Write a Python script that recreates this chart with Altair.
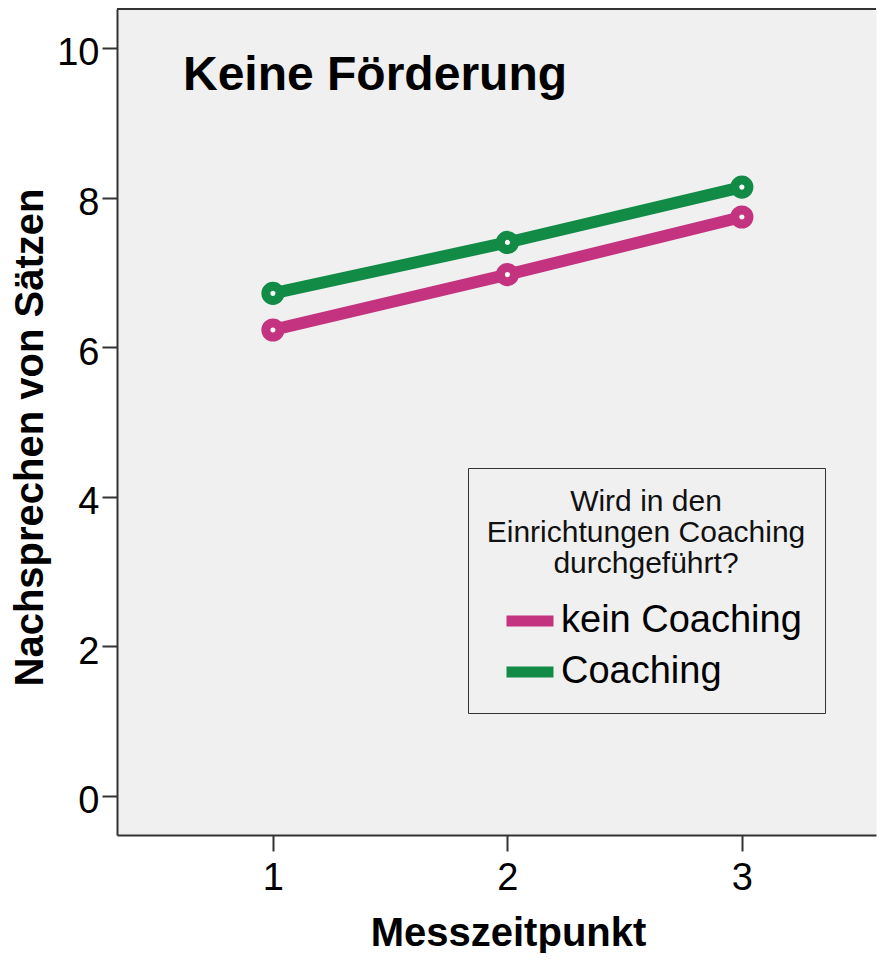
import altair as alt
import pandas as pd

# ---- data ----
zeitpunkte = [1, 2, 3]
kein_coaching = [6.23, 6.97, 7.74]
coaching = [6.72, 7.40, 8.14]
gruppen = ["kein Coaching", "Coaching"]
farben = ["#c3337f", "#118b45"]
y_ticks = [0, 2, 4, 6, 8, 10]
x_ticks = [1, 2, 3]
titel = "Keine Förderung"
legend_title = ["Wird in den", "Einrichtungen Coaching", "durchgeführt?"]
x_title = "Messzeitpunkt"
y_title = "Nachsprechen von Sätzen"

rows = []
for g, vals in zip(gruppen, [kein_coaching, coaching]):
    for t, v in zip(zeitpunkte, vals):
        rows.append({"Messzeitpunkt": t, "Wert": v, "Gruppe": g})
df = pd.DataFrame(rows)
one = pd.DataFrame({"a": [0]})

FONT = "Liberation Sans"
W, H = 759, 826
AX = "#333333"

x_enc = alt.X(
    "Messzeitpunkt:Q",
    scale=alt.Scale(domain=[0.335, 3.572], nice=False, zero=False),
    axis=alt.Axis(
        values=x_ticks, title=x_title, format="d",
        domainColor=AX, domainWidth=2, tickColor=AX, tickWidth=2, tickSize=16,
        labelFont=FONT, labelFontSize=38, labelColor="black", labelPadding=8,
        titleFont=FONT, titleFontSize=40, titleFontWeight="bold", titleColor="black",
        titleX=391, titleY=110, titleBaseline="alphabetic", titleAlign="center",
        grid=False,
    ),
)
y_enc = alt.Y(
    "Wert:Q",
    scale=alt.Scale(domain=[-0.522, 10.521], nice=False, zero=False),
    axis=alt.Axis(
        values=y_ticks, title=y_title, format="d",
        domainColor=AX, domainWidth=2, tickColor=AX, tickWidth=2, tickSize=15,
        labelFont=FONT, labelFontSize=38, labelColor="black", labelPadding=3,
        labelOffset=6,
        titleFont=FONT, titleFontSize=40, titleFontWeight="bold", titleColor="black",
        titleX=-75, titleY=428, titleAngle=-90, titleBaseline="alphabetic",
        titleAlign="center", titleLimit=700,
        grid=False,
    ),
)

lines = alt.Chart(df).mark_line(
    strokeWidth=12,
    point=alt.OverlayMarkDef(filled=False, fill="white", size=200, strokeWidth=9),
).encode(
    x=x_enc,
    y=y_enc,
    color=alt.Color(
        "Gruppe:N",
        scale=alt.Scale(domain=gruppen, range=farben),
        legend=alt.Legend(
            title=legend_title, orient="none", legendX=351, legendY=459,
            fillColor="#f0f0f0", strokeColor=AX, padding=19,
            cornerRadius=0,
            titleFont=FONT, titleFontSize=30, titleFontWeight="normal",
            titleColor="#111111", titleAlign="center", titleAnchor="middle",
            titleLineHeight=31, titlePadding=13, titleLimit=500,
            labelFont=FONT, labelFontSize=38, labelColor="black", labelOffset=2,
            labelLimit=500,
            symbolType="stroke", symbolSize=2209, symbolStrokeWidth=11,
            symbolOffset=11, rowPadding=0,
        ),
    ),
)

top_rule = alt.Chart(one).mark_rule(color=AX, strokeWidth=2).encode(
    x=alt.value(0), x2=alt.value(W), y=alt.value(0)
)

title_text = alt.Chart(one).mark_text(
    align="left", baseline="alphabetic", font=FONT, fontSize=48,
    fontWeight="bold", color="black",
).encode(x=alt.value(66), y=alt.value(81), text=alt.value(titel))

chart = (
    alt.layer(lines, top_rule, title_text)
    .properties(
        width=W, height=H,
        autosize=alt.AutoSizeParams(type="none"),
        padding={"left": 109, "top": 1, "right": 1, "bottom": 118},
        background="white",
    )
    .configure_view(fill="#f0f0f0", stroke="transparent")
)

chart.save("out.html", embed_options={"renderer": "svg", "actions": False})
